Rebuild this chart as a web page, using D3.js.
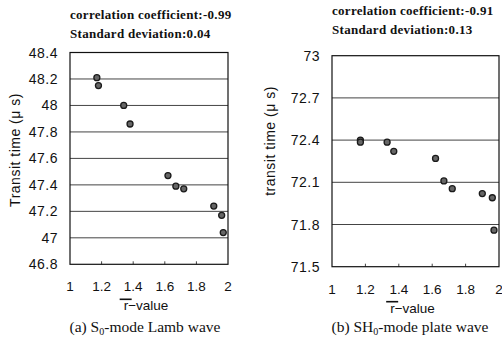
<!DOCTYPE html>
<html>
<head>
<meta charset="utf-8">
<script src="https://cdn.jsdelivr.net/npm/d3@7"></script>
<style>
  body { margin: 0; background: #fff; }
  svg { display: block; }
</style>
</head>
<body>
<div id="chart"></div>
<script>
// r-value (x) vs transit time (y)
var lambR = [1.17, 1.18, 1.34, 1.38, 1.62, 1.67, 1.72, 1.91, 1.96, 1.97];
var lambTime = [48.21, 48.15, 48.0, 47.86, 47.47, 47.39, 47.37, 47.24, 47.17, 47.04];
var plateR = [1.17, 1.17, 1.33, 1.37, 1.62, 1.67, 1.72, 1.90, 1.96, 1.97];
var plateTime = [72.40, 72.385, 72.385, 72.32, 72.27, 72.11, 72.055, 72.02, 71.99, 71.76];

var xTicks = [1, 1.2, 1.4, 1.6, 1.8, 2];
var lambTicks = [46.8, 47, 47.2, 47.4, 47.6, 47.8, 48, 48.2, 48.4];
var plateTicks = [71.5, 71.8, 72.1, 72.4, 72.7, 73];

var W = 502, H = 339;
var svg = d3.select("#chart").append("svg")
    .attr("width", W)
    .attr("height", H);
svg.append("rect").attr("width", W).attr("height", H).attr("fill", "#fff");

var sans = "'Liberation Sans', Arial, sans-serif";
var serif = "'Liberation Serif', 'Times New Roman', serif";

function drawPanel(p) {
    var g = svg.append("g");
    var x = d3.scaleLinear().domain([1, 2]).range([p.left, p.right]);
    var y = d3.scaleLinear().domain(d3.extent(p.yTicks)).range([p.bottom, p.top]);

    // stats text above the plot
    g.append("text")
        .attr("x", p.left).attr("y", p.textY)
        .attr("font-family", serif).attr("font-weight", "bold").attr("font-size", 13)
        .attr("letter-spacing", 0.3)
        .attr("fill", "#111")
        .text("correlation coefficient:" + p.corr);
    g.append("text")
        .attr("x", p.left).attr("y", p.textY + 19)
        .attr("font-family", serif).attr("font-weight", "bold").attr("font-size", 13)
        .attr("letter-spacing", 0.3)
        .attr("fill", "#111")
        .text("Standard deviation:" + p.sd);

    // horizontal grid lines (inner ticks only)
    g.selectAll(".grid")
        .data(p.yTicks.slice(1, -1))
        .enter().append("line")
        .attr("x1", p.left).attr("x2", p.right)
        .attr("y1", function(d) { return y(d); })
        .attr("y2", function(d) { return y(d); })
        .attr("stroke", "#444").attr("stroke-width", 1);

    // small inward ticks on the bottom edge
    g.selectAll(".xtick")
        .data(xTicks.slice(1, -1))
        .enter().append("line")
        .attr("x1", function(d) { return x(d); })
        .attr("x2", function(d) { return x(d); })
        .attr("y1", p.bottom).attr("y2", p.bottom - 3)
        .attr("stroke", "#444");

    // plot frame
    g.append("rect")
        .attr("x", p.left).attr("y", p.top)
        .attr("width", p.right - p.left).attr("height", p.bottom - p.top)
        .attr("fill", "none").attr("stroke", "#111").attr("stroke-width", 1.2);

    // y tick labels
    g.selectAll(".ylab")
        .data(p.yTicks)
        .enter().append("text")
        .attr("x", p.left - 12)
        .attr("y", function(d) { return y(d) + 5; })
        .attr("text-anchor", "end")
        .attr("font-family", sans).attr("font-size", 14)
        .attr("letter-spacing", 0.5)
        .attr("fill", "#111")
        .text(function(d) { return d3.format("")(+d.toFixed(1)); });

    // x tick labels
    g.selectAll(".xlab")
        .data(xTicks)
        .enter().append("text")
        .attr("x", function(d) { return x(d); })
        .attr("y", p.bottom + 27)
        .attr("text-anchor", "middle")
        .attr("font-family", sans).attr("font-size", 13.5)
        .attr("fill", "#111")
        .text(function(d) { return d3.format("")(+d.toFixed(1)); });

    // x title with overlined r
    var xt = g.append("text")
        .attr("x", (p.left + p.right) / 2 - 3)
        .attr("y", p.bottom + 46)
        .attr("text-anchor", "middle")
        .attr("font-family", sans).attr("font-size", 13.5)
        .attr("fill", "#111")
        .text("r\u2212value");
    var bb = xt.node().getBBox();
    g.append("line")
        .attr("x1", bb.x - 4).attr("x2", bb.x + 8)
        .attr("y1", bb.y + 1).attr("y2", bb.y + 1)
        .attr("stroke", "#111").attr("stroke-width", 1.6);

    // y title
    g.append("text")
        .attr("transform", "translate(" + p.yTitleX + "," + p.yTitleY + ") rotate(-90)")
        .attr("text-anchor", "middle")
        .attr("font-family", sans).attr("font-size", 14)
        .attr("letter-spacing", 0.5)
        .attr("fill", "#111")
        .text(p.yTitle);

    // caption
    var cap = g.append("text")
        .attr("x", p.capX).attr("y", 332)
        .attr("text-anchor", "middle")
        .attr("font-family", serif).attr("font-size", 15.5)
        .attr("fill", "#111");
    cap.append("tspan").text(p.capA);
    cap.append("tspan").attr("font-size", 10).attr("dy", 3).text("0");
    cap.append("tspan").attr("dy", -3).text(p.capB);

    // points
    var pts = p.xs.map(function(v, i) { return [v, p.ys[i]]; });
    g.selectAll(".pt")
        .data(pts)
        .enter().append("circle")
        .attr("cx", function(d) { return x(d[0]); })
        .attr("cy", function(d) { return y(d[1]); })
        .attr("r", 3)
        .attr("fill", "#666")
        .attr("stroke", "#1a1a1a")
        .attr("stroke-width", 1.3);
}

drawPanel({
    left: 70, right: 228, top: 52.5, bottom: 264.3,
    yTicks: lambTicks, xs: lambR, ys: lambTime,
    corr: "-0.99", sd: "0.04", textY: 19,
    yTitle: "Transit time (\u03bc s)", yTitleX: 20, yTitleY: 150,
    capX: 145, capA: "(a) S", capB: "-mode Lamb wave"
});
drawPanel({
    left: 332, right: 499, top: 55.7, bottom: 266.7,
    yTicks: plateTicks, xs: plateR, ys: plateTime,
    corr: "-0.91", sd: "0.13", textY: 15,
    yTitle: "transit time (\u03bc s)", yTitleX: 275, yTitleY: 141,
    capX: 410, capA: "(b) SH", capB: "-mode plate wave"
});
</script>
</body>
</html>
